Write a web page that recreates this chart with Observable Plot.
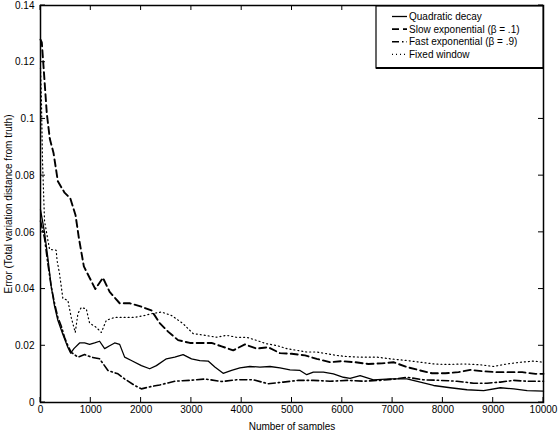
<!DOCTYPE html>
<html><head><meta charset="utf-8">
<script src="https://cdn.jsdelivr.net/npm/d3@7"></script>
<script src="https://cdn.jsdelivr.net/npm/@observablehq/plot@0.6"></script>
<style>body{margin:0;background:#fff}#chart{width:560px;height:430px}</style>
</head><body><div id="chart"></div>
<script>
const xTicks = [0,1000,2000,3000,4000,5000,6000,7000,8000,9000,10000];
const xTickLabels = ["0","1000","2000","3000","4000","5000","6000","7000","8000","9000","10000"];
const yTicks = [0,0.02,0.04,0.06,0.08,0.1,0.12,0.14];
const yTickLabels = ["0","0.02","0.04","0.06","0.08","0.1","0.12","0.14"];
const seriesNames = ["Quadratic decay","Slow exponential (β = .1)","Fast exponential (β = .9)","Fixed window"];
const xLabel = "Number of samples";
const yLabel = "Error (Total variation distance from truth)";

const quadX = [0,80,146,212,279,345,445,545,600,664,777,877,976,1076,1175,1275,1375,1474,1574,1673,1806,2006,2171,2304,2503,2669,2835,3002,3167,3333,3466,3631,3799,3964,4163,4363,4562,4761,4960,5159,5293,5424,5624,5823,6022,6155,6355,6620,6952,7285,7550,7815,8147,8480,8811,9143,9409,9675,10000];
const quadY = [0.068,0.060,0.051,0.041,0.034,0.029,0.024,0.0194,0.0174,0.019,0.021,0.021,0.0205,0.021,0.0216,0.019,0.020,0.021,0.0205,0.016,0.0148,0.013,0.0119,0.013,0.0154,0.016,0.0169,0.0154,0.0148,0.0146,0.0125,0.0103,0.0113,0.0122,0.0127,0.0125,0.0127,0.0122,0.0115,0.0113,0.0098,0.0107,0.0107,0.0101,0.0089,0.0085,0.0095,0.008,0.0083,0.0083,0.0072,0.006,0.0052,0.0045,0.0042,0.0052,0.0048,0.0042,0.004];

const slowX = [0,26,66,125,185,259,345,478,592,697,763,862,976,1090,1241,1375,1574,1773,1972,2205,2370,2536,2735,2968,3201,3400,3600,3831,4064,4297,4528,4761,4994,5259,5492,5757,5990,6255,6520,6787,7018,7285,7550,7783,8048,8313,8546,8811,9078,9343,9576,9841,10000];
const slowY = [0.128,0.127,0.117,0.102,0.093,0.088,0.078,0.074,0.072,0.066,0.058,0.048,0.044,0.040,0.044,0.039,0.035,0.035,0.034,0.0325,0.028,0.025,0.022,0.021,0.021,0.021,0.0198,0.0184,0.0205,0.019,0.0195,0.0174,0.0172,0.0166,0.0154,0.0142,0.0146,0.0142,0.0136,0.0138,0.0142,0.0125,0.0113,0.0103,0.0103,0.0107,0.0115,0.011,0.0107,0.0107,0.0107,0.0101,0.0101];

const fastX = [0,80,146,212,279,345,412,478,545,611,744,877,1010,1175,1341,1540,1673,1873,2006,2138,2370,2669,2968,3267,3600,3898,4229,4528,4827,5126,5424,5757,6090,6421,6753,7052,7285,7616,7948,8281,8612,8878,9143,9409,9675,10000];
const fastY = [0.064,0.058,0.049,0.041,0.035,0.030,0.027,0.023,0.020,0.0177,0.016,0.0169,0.016,0.0154,0.0113,0.0101,0.0083,0.006,0.0048,0.0054,0.0062,0.0075,0.0078,0.0083,0.0074,0.008,0.008,0.0066,0.0072,0.0078,0.0078,0.0075,0.0078,0.0075,0.0078,0.0083,0.0089,0.008,0.0078,0.0075,0.0068,0.0068,0.0072,0.0078,0.0075,0.0075];

const fixedX = [0,20,40,80,180,312,330,378,445,545,611,691,744,810,910,976,1109,1209,1309,1474,1673,1873,2072,2231,2404,2603,2835,3034,3267,3500,3699,3898,4098,4297,4496,4695,4894,5094,5293,5492,5691,5890,6090,6355,6687,6952,7285,7550,7815,8082,8412,8745,9010,9277,9542,9807,10000];
const fixedY = [0.118,0.105,0.085,0.064,0.054,0.0537,0.050,0.0455,0.0367,0.036,0.030,0.0247,0.0314,0.0335,0.033,0.028,0.0265,0.0247,0.029,0.030,0.030,0.030,0.0307,0.0314,0.0319,0.0307,0.0278,0.0243,0.0237,0.023,0.0237,0.023,0.023,0.0219,0.0207,0.0201,0.019,0.0184,0.0178,0.0178,0.0172,0.0166,0.0162,0.016,0.016,0.0154,0.0148,0.0142,0.0136,0.0134,0.0136,0.0133,0.0127,0.0136,0.0142,0.0146,0.0142];

const seriesData = [[quadX,quadY],[slowX,slowY],[fastX,fastY],[fixedX,fixedY]];
const seriesStyle = [
  {dash: null, width: 1.3},
  {dash: "7,4", width: 1.9},
  {dash: "7,3,1.5,3", width: 1.6},
  {dash: "1,3", width: 1.2}
];

const font = "'Liberation Sans', Arial, Helvetica, sans-serif";
const rows = seriesData.map(([xs, ys], s) => xs.map((x, i) => ({series: seriesNames[s], x, y: ys[i]})));

// inward ticks on all four sides, placed through the plot's own scales
function ticksMark(index, scales, values, dims) {
  const L = 5;
  const top = dims.marginTop, bottom = dims.height - dims.marginBottom;
  const left = dims.marginLeft, right = dims.width - dims.marginRight;
  const g = d3.create("svg:g").attr("stroke", "#000").attr("stroke-width", 1);
  xTicks.forEach(t => {
    const px = scales.x(t);
    g.append("line").attr("x1", px).attr("x2", px).attr("y1", bottom).attr("y2", bottom - L);
    g.append("line").attr("x1", px).attr("x2", px).attr("y1", top).attr("y2", top + L);
  });
  yTicks.forEach(t => {
    const py = scales.y(t);
    g.append("line").attr("y1", py).attr("y2", py).attr("x1", left).attr("x2", left + L);
    g.append("line").attr("y1", py).attr("y2", py).attr("x1", right).attr("x2", right - L);
  });
  return g.node();
}

function legendMark(index, scales, values, dims) {
  const right = dims.width - dims.marginRight;
  const w = 167, h = 62, x0 = right - w, y0 = dims.marginTop + 1;
  const g = d3.create("svg:g").attr("font-family", font).attr("font-size", 10).attr("fill", "#000");
  g.append("rect").attr("x", x0).attr("y", y0).attr("width", w).attr("height", h)
    .attr("fill", "#fff").attr("stroke", "#000").attr("stroke-width", 1.2);
  g.append("line").attr("x1", x0).attr("x2", right).attr("y1", y0 + h).attr("y2", y0 + h)
    .attr("stroke", "#000").attr("stroke-width", 2);
  seriesNames.forEach((name, i) => {
    const cy = y0 + 10.5 + i * 12.6;
    const st = seriesStyle[i];
    g.append("line").attr("x1", x0 + 16).attr("x2", x0 + 31).attr("y1", cy).attr("y2", cy)
      .attr("stroke", "#000").attr("stroke-width", st.width)
      .attr("stroke-dasharray", st.dash);
    g.append("text").attr("x", x0 + 33).attr("y", cy).attr("dy", "0.35em")
      .attr("text-anchor", "start").text(name);
  });
  return g.node();
}

const lineMarks = rows.map((r, s) => Plot.line(r, {
  x: "x", y: "y", stroke: "#000",
  strokeWidth: seriesStyle[s].width,
  strokeDasharray: seriesStyle[s].dash
}));

const chart = Plot.plot({
  width: 560, height: 430,
  marginLeft: 40, marginRight: 17, marginTop: 5, marginBottom: 28,
  style: {fontFamily: font, fontSize: "10px", color: "#000", background: "#fff"},
  x: {domain: [0, 10000]},
  y: {domain: [0, 0.14]},
  marks: [
    ...lineMarks,
    Plot.axisX(xTicks, {anchor: "bottom", tickSize: 0, tickPadding: 3, tickFormat: d => xTickLabels[xTicks.indexOf(d)], label: xLabel, labelAnchor: "center", labelOffset: 27, labelArrow: "none"}),
    Plot.axisY(yTicks, {anchor: "left", tickSize: 0, tickPadding: 6, tickFormat: d => yTickLabels[yTicks.indexOf(d)], label: yLabel, labelAnchor: "center", labelOffset: 36, labelArrow: "none"}),
    ticksMark,
    Plot.frame({stroke: "#000", strokeWidth: 1.5}),
    legendMark
  ]
});
document.getElementById("chart").appendChild(chart);
</script>
</body></html>
